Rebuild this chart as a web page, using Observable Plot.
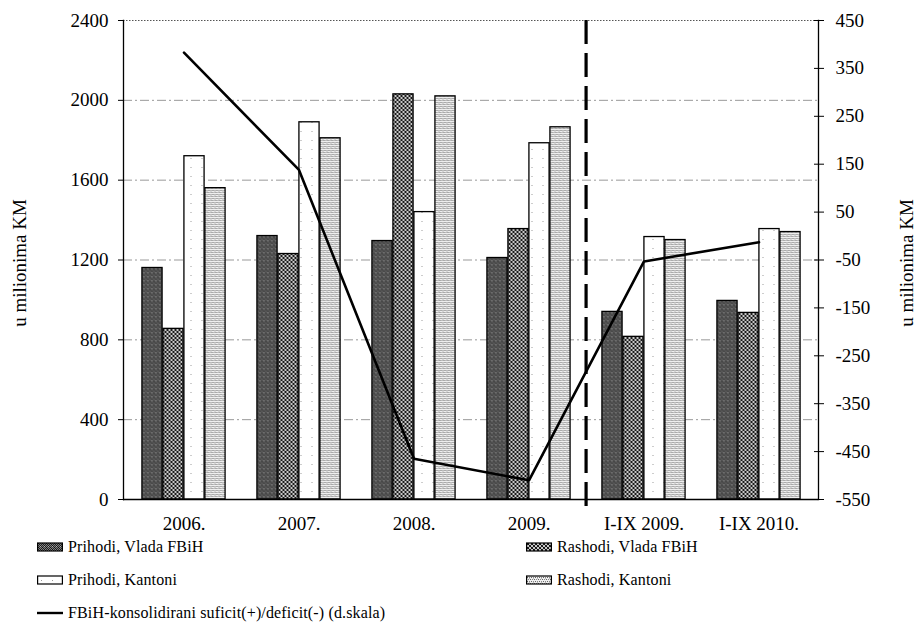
<!DOCTYPE html>
<html>
<head>
<meta charset="utf-8">
<script src="https://cdn.jsdelivr.net/npm/d3@7"></script>
<script src="https://cdn.jsdelivr.net/npm/@observablehq/plot@0.6"></script>
<style>
  html, body { margin: 0; padding: 0; background: #fff; }
  #wrap { position: relative; width: 923px; height: 638px; overflow: hidden; font-family: "Liberation Serif", "Times New Roman", serif; color: #000; }
  #wrap svg.chart { position: absolute; left: 0; top: 0; }
  .ytitle { position: absolute; font-size: 19px; white-space: nowrap; transform: translate(-50%, -50%) rotate(-90deg); }
  .leg { position: absolute; font-size: 16px; white-space: nowrap; display: flex; align-items: center; letter-spacing: 0.15px; }
  .leg svg { margin-right: 5px; }
</style>
</head>
<body>
<div id="wrap"></div>
<script>
// ---- data ----
const categories = ["2006.", "2007.", "2008.", "2009.", "I-IX 2009.", "I-IX 2010."];
const seriesNames = ["Prihodi, Vlada FBiH", "Rashodi, Vlada FBiH", "Prihodi, Kantoni", "Rashodi, Kantoni"];
const prihodiVlada   = [1160, 1320, 1295, 1210, 940, 995];
const rashodiVlada   = [855, 1230, 2030, 1355, 815, 935];
const prihodiKantoni = [1720, 1890, 1440, 1785, 1315, 1355];
const rashodiKantoni = [1560, 1810, 2020, 1865, 1300, 1340];
const saldo          = [383, 138, -465, -510, -53, -13];
const lineName = "FBiH-konsolidirani suficit(+)/deficit(-) (d.skala)";
const leftTicks  = [0, 400, 800, 1200, 1600, 2000, 2400];
const gridTicks  = [400, 800, 1200, 1600, 2000];
const rightTicks = [450, 350, 250, 150, 50, -50, -150, -250, -350, -450, -550];
const axisTitle = "u milionima KM";
const splitCategory = "I-IX 2009.";

// ---- layout ----
const W = 923, H = 540;
const mL = 123, mR = 105, mT = 20, mB = 41;
const bw = (W - mL - mR) / categories.length;
const barW = 21;
const inset = (bw - barW) / 2;

// right axis (-550..450) mapped onto left (0..2400)
const rMin = -550, rMax = 450, lMax = 2400;
const toLeft = v => (v - rMin) * lMax / (rMax - rMin);
const toRight = t => Math.round(t * (rMax - rMin) / lMax + rMin);

const seriesValues = [prihodiVlada, rashodiVlada, prihodiKantoni, rashodiKantoni];
const patIds = ["patPV", "patRV", "patPK", "patRK"];

const barMarks = seriesValues.map((vals, i) =>
  Plot.barY(categories.map((c, j) => ({cat: c, value: vals[j], series: seriesNames[i]})), {
    x: "cat", y: "value",
    fill: `url(#${patIds[i]})`, stroke: "#000", strokeWidth: 1.3,
    insetLeft: inset, insetRight: inset,
    dx: (i - 1.5) * barW
  })
);

const chart = Plot.plot({
  width: W, height: H,
  marginLeft: mL, marginRight: mR, marginTop: mT, marginBottom: mB,
  style: {fontFamily: "Liberation Serif, Times New Roman, serif", fontSize: "19px", color: "#000", background: "#fff"},
  x: {domain: categories, padding: 0, axis: null},
  y: {domain: [0, lMax], axis: null},
  marks: [
    Plot.ruleY(gridTicks, {stroke: "#999", strokeWidth: 1, strokeDasharray: "9,3,2,3"}),
    Plot.ruleY([lMax], {stroke: "#555", strokeWidth: 1, strokeDasharray: "1.5,1.5"}),
    ...barMarks,
    Plot.ruleX([splitCategory], {dx: -bw / 2, stroke: "#000", strokeWidth: 3.2, strokeDasharray: "24,9", y1: lMax, y2: 0, insetBottom: -7}),
    Plot.line(categories.map((c, j) => ({cat: c, v: saldo[j]})), {
      x: "cat", y: d => toLeft(d.v), stroke: "#000", strokeWidth: 2.6, strokeLinejoin: "miter"
    }),
    Plot.ruleY([0], {stroke: "#000", strokeWidth: 1.3}),
    Plot.frame({anchor: "left", stroke: "#000", strokeWidth: 1.3}),
    Plot.frame({anchor: "right", stroke: "#000", strokeWidth: 1.3}),
    Plot.axisY(leftTicks, {anchor: "left", tickSize: 5, tickPadding: 10, label: null, tickFormat: d => String(d)}),
    Plot.axisY(rightTicks.map(toLeft), {anchor: "right", tickSize: 10, dx: -5, tickPadding: 12, label: null, tickFormat: t => String(toRight(t))}),
    Plot.axisX({tickSize: 0, tickPadding: 17, label: null})
  ]
});
chart.classList.add("chart");

// ---- fill patterns ----
const defs = d3.select(chart).insert("defs", ":first-child");
function pattern(id, size, bg, dots) {
  const p = defs.append("pattern").attr("id", id).attr("patternUnits", "userSpaceOnUse")
    .attr("width", size[0]).attr("height", size[1]);
  p.append("rect").attr("width", size[0]).attr("height", size[1]).attr("fill", bg).attr("shape-rendering", "crispEdges");
  for (const [x, y, c] of dots) p.append("rect").attr("x", x).attr("y", y).attr("width", 1).attr("height", 1).attr("fill", c).attr("shape-rendering", "crispEdges");
}
pattern("patPV", [4, 4], "#808080", [[0,0,"#1e1e1e"],[2,0,"#2a2a2a"],[1,1,"#111"],[3,1,"#3a3a3a"],[0,2,"#222"],[2,2,"#1a1a1a"],[1,3,"#2c2c2c"],[3,3,"#151515"],[3,0,"#b0b0b0"]]);
pattern("patRV", [4, 4], "#c8c8c8", [[0,0,"#111"],[1,1,"#111"],[2,2,"#111"],[3,3,"#111"],[3,0,"#222"],[2,1,"#222"],[1,2,"#222"],[0,3,"#222"]]);
pattern("patPK", [11, 9], "#ffffff", [[4,5,"#9a9a9a"]]);
pattern("patRK", [4, 4], "#eeeeee", [[0,0,"#666"],[2,0,"#888"],[1,2,"#666"],[3,2,"#888"],[3,3,"#bcbcbc"]]);

const wrap = document.getElementById("wrap");
wrap.appendChild(chart);

// ---- axis titles ----
for (const x of [20, 907]) {
  const t = document.createElement("div");
  t.className = "ytitle";
  t.textContent = axisTitle;
  t.style.left = x + "px";
  t.style.top = "263px";
  wrap.appendChild(t);
}

// ---- legend ----
const svgNS = "http://www.w3.org/2000/svg";
function swatch(kind, id) {
  const s = document.createElementNS(svgNS, "svg");
  s.setAttribute("width", 26); s.setAttribute("height", 10);
  if (kind === "rect") {
    const r = document.createElementNS(svgNS, "rect");
    r.setAttribute("x", 0.6); r.setAttribute("y", 1); r.setAttribute("width", 24.8); r.setAttribute("height", 8);
    r.setAttribute("fill", `url(#${id})`); r.setAttribute("stroke", "#000"); r.setAttribute("stroke-width", 1.2);
    s.appendChild(r);
  } else {
    const l = document.createElementNS(svgNS, "line");
    l.setAttribute("x1", 0); l.setAttribute("x2", 26); l.setAttribute("y1", 5); l.setAttribute("y2", 5);
    l.setAttribute("stroke", "#000"); l.setAttribute("stroke-width", 2.4);
    s.appendChild(l);
  }
  return s;
}
const legendItems = [
  {name: seriesNames[0], kind: "rect", id: patIds[0], x: 37, y: 547},
  {name: seriesNames[1], kind: "rect", id: patIds[1], x: 526, y: 547},
  {name: seriesNames[2], kind: "rect", id: patIds[2], x: 37, y: 580},
  {name: seriesNames[3], kind: "rect", id: patIds[3], x: 526, y: 580},
  {name: lineName, kind: "line", x: 37, y: 613}
];
for (const it of legendItems) {
  const d = document.createElement("div");
  d.className = "leg";
  d.style.left = it.x + "px";
  d.style.top = (it.y - 10) + "px";
  d.style.height = "20px";
  d.appendChild(swatch(it.kind, it.id));
  const sp = document.createElement("span");
  sp.textContent = it.name;
  d.appendChild(sp);
  wrap.appendChild(d);
}
</script>
</body>
</html>
